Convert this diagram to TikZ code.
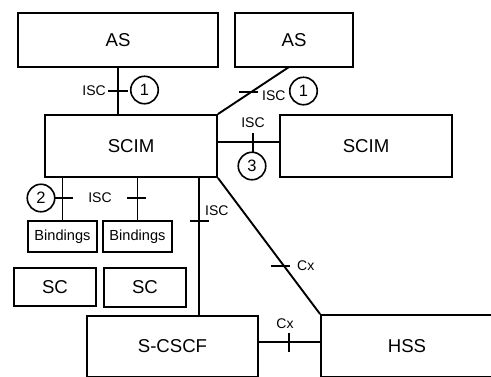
\documentclass[tikz,border=0pt]{standalone}
\usepackage{fontspec}
\setmainfont{Liberation Sans}
\usetikzlibrary{calc}
\begin{document}
\begin{tikzpicture}[x=1pt,y=-1pt,
 box/.style={draw, line width=1.9pt, inner sep=0pt, font=\fontsize{18.6}{20}\selectfont},
 smallbox/.style={box, font=\fontsize{14.6}{16}\selectfont},
 lbl/.style={inner sep=0pt, font=\fontsize{14}{16}\selectfont},
 num/.style={draw, circle, line width=1.6pt, minimum size=27.5pt, inner sep=0pt, font=\fontsize{16.5}{18}\selectfont},
 conn/.style={line width=1.9pt},
 tick/.style={line width=1.9pt},
]
\useasboundingbox (0,0) rectangle (491,376);
\clip (0,0) rectangle (491,376);
% boxes
\node[box, minimum width=200pt, minimum height=54pt] (as1) at (118,40) {AS};
\node[box, minimum width=118pt, minimum height=54pt] (as2) at (294,40) {AS};
\node[box, minimum width=172pt, minimum height=62pt] (scim1) at (131,146) {SCIM};
\node[box, minimum width=172pt, minimum height=62pt] (scim2) at (366,146) {SCIM};
\node[smallbox, minimum width=69pt, minimum height=31pt] (bind1) at (62.5,236.5) {Bindings};
\node[smallbox, minimum width=69pt, minimum height=31pt] (bind2) at (137.5,236.5) {Bindings};
\node[box, minimum width=82pt, minimum height=38pt] (sc1) at (55,287) {SC};
\node[box, minimum width=82pt, minimum height=39pt] (sc2) at (145,287.5) {SC};
\node[box, minimum width=171pt, minimum height=61pt] (scscf) at (172.5,346.5) {S-CSCF};
\node[box, minimum width=172pt, minimum height=62pt] (hss) at (407,346) {HSS};
% helper coordinates
\coordinate (as2b) at (289,67);
\coordinate (s1r) at (217,142);
\coordinate (s2l) at (280,142);
\coordinate (s1b) at (199,177);
\coordinate (cscft) at (199,316);
\coordinate (cscfr) at (258,342);
\coordinate (hssl) at (321,342);
% connectors
\draw[conn] (as1.south) -- (as1.south |- scim1.north);
\draw[conn] (as2b) -- (scim1.north east);
\draw[conn] (s1r) -- (s2l);
\draw[conn] (bind1.north) -- (bind1.north |- scim1.south);
\draw[conn] (bind2.north) -- (bind2.north |- scim1.south);
\draw[conn] (s1b) -- (cscft);
\draw[conn] (scim1.south east) -- (hss.north west);
\draw[conn] (cscfr) -- (hssl);
% ticks
\draw[tick] (108,91) -- (128,91);
\draw[tick] (239,92) -- (258,92);
\draw[tick] (253,133) -- (253,153);
\draw[tick] (55,198) -- (73,198);
\draw[tick] (127,198) -- (146,198);
\draw[tick] (190,221) -- (209,221);
\draw[tick] (271,266) -- (290,266);
\draw[tick] (289,333) -- (289,352);
% labels
\node[lbl, anchor=east] (l1) at (106,91) {ISC};
\node[num] (c1a) at (144.5,90) {1};
\node[lbl, anchor=west] (l2) at (262,96) {ISC};
\node[num] (c1b) at (303.5,91) {1};
\node[lbl] (l3) at (253,123) {ISC};
\node[num] (c3) at (252,166) {3};
\node[num] (c2) at (41,198) {2};
\node[lbl] (l4) at (100,198) {ISC};
\node[lbl, anchor=west] (l5) at (205,211) {ISC};
\node[lbl, anchor=west] (l6) at (297,266) {Cx};
\node[lbl] (l7) at (285,324) {Cx};
\end{tikzpicture}
\end{document}
